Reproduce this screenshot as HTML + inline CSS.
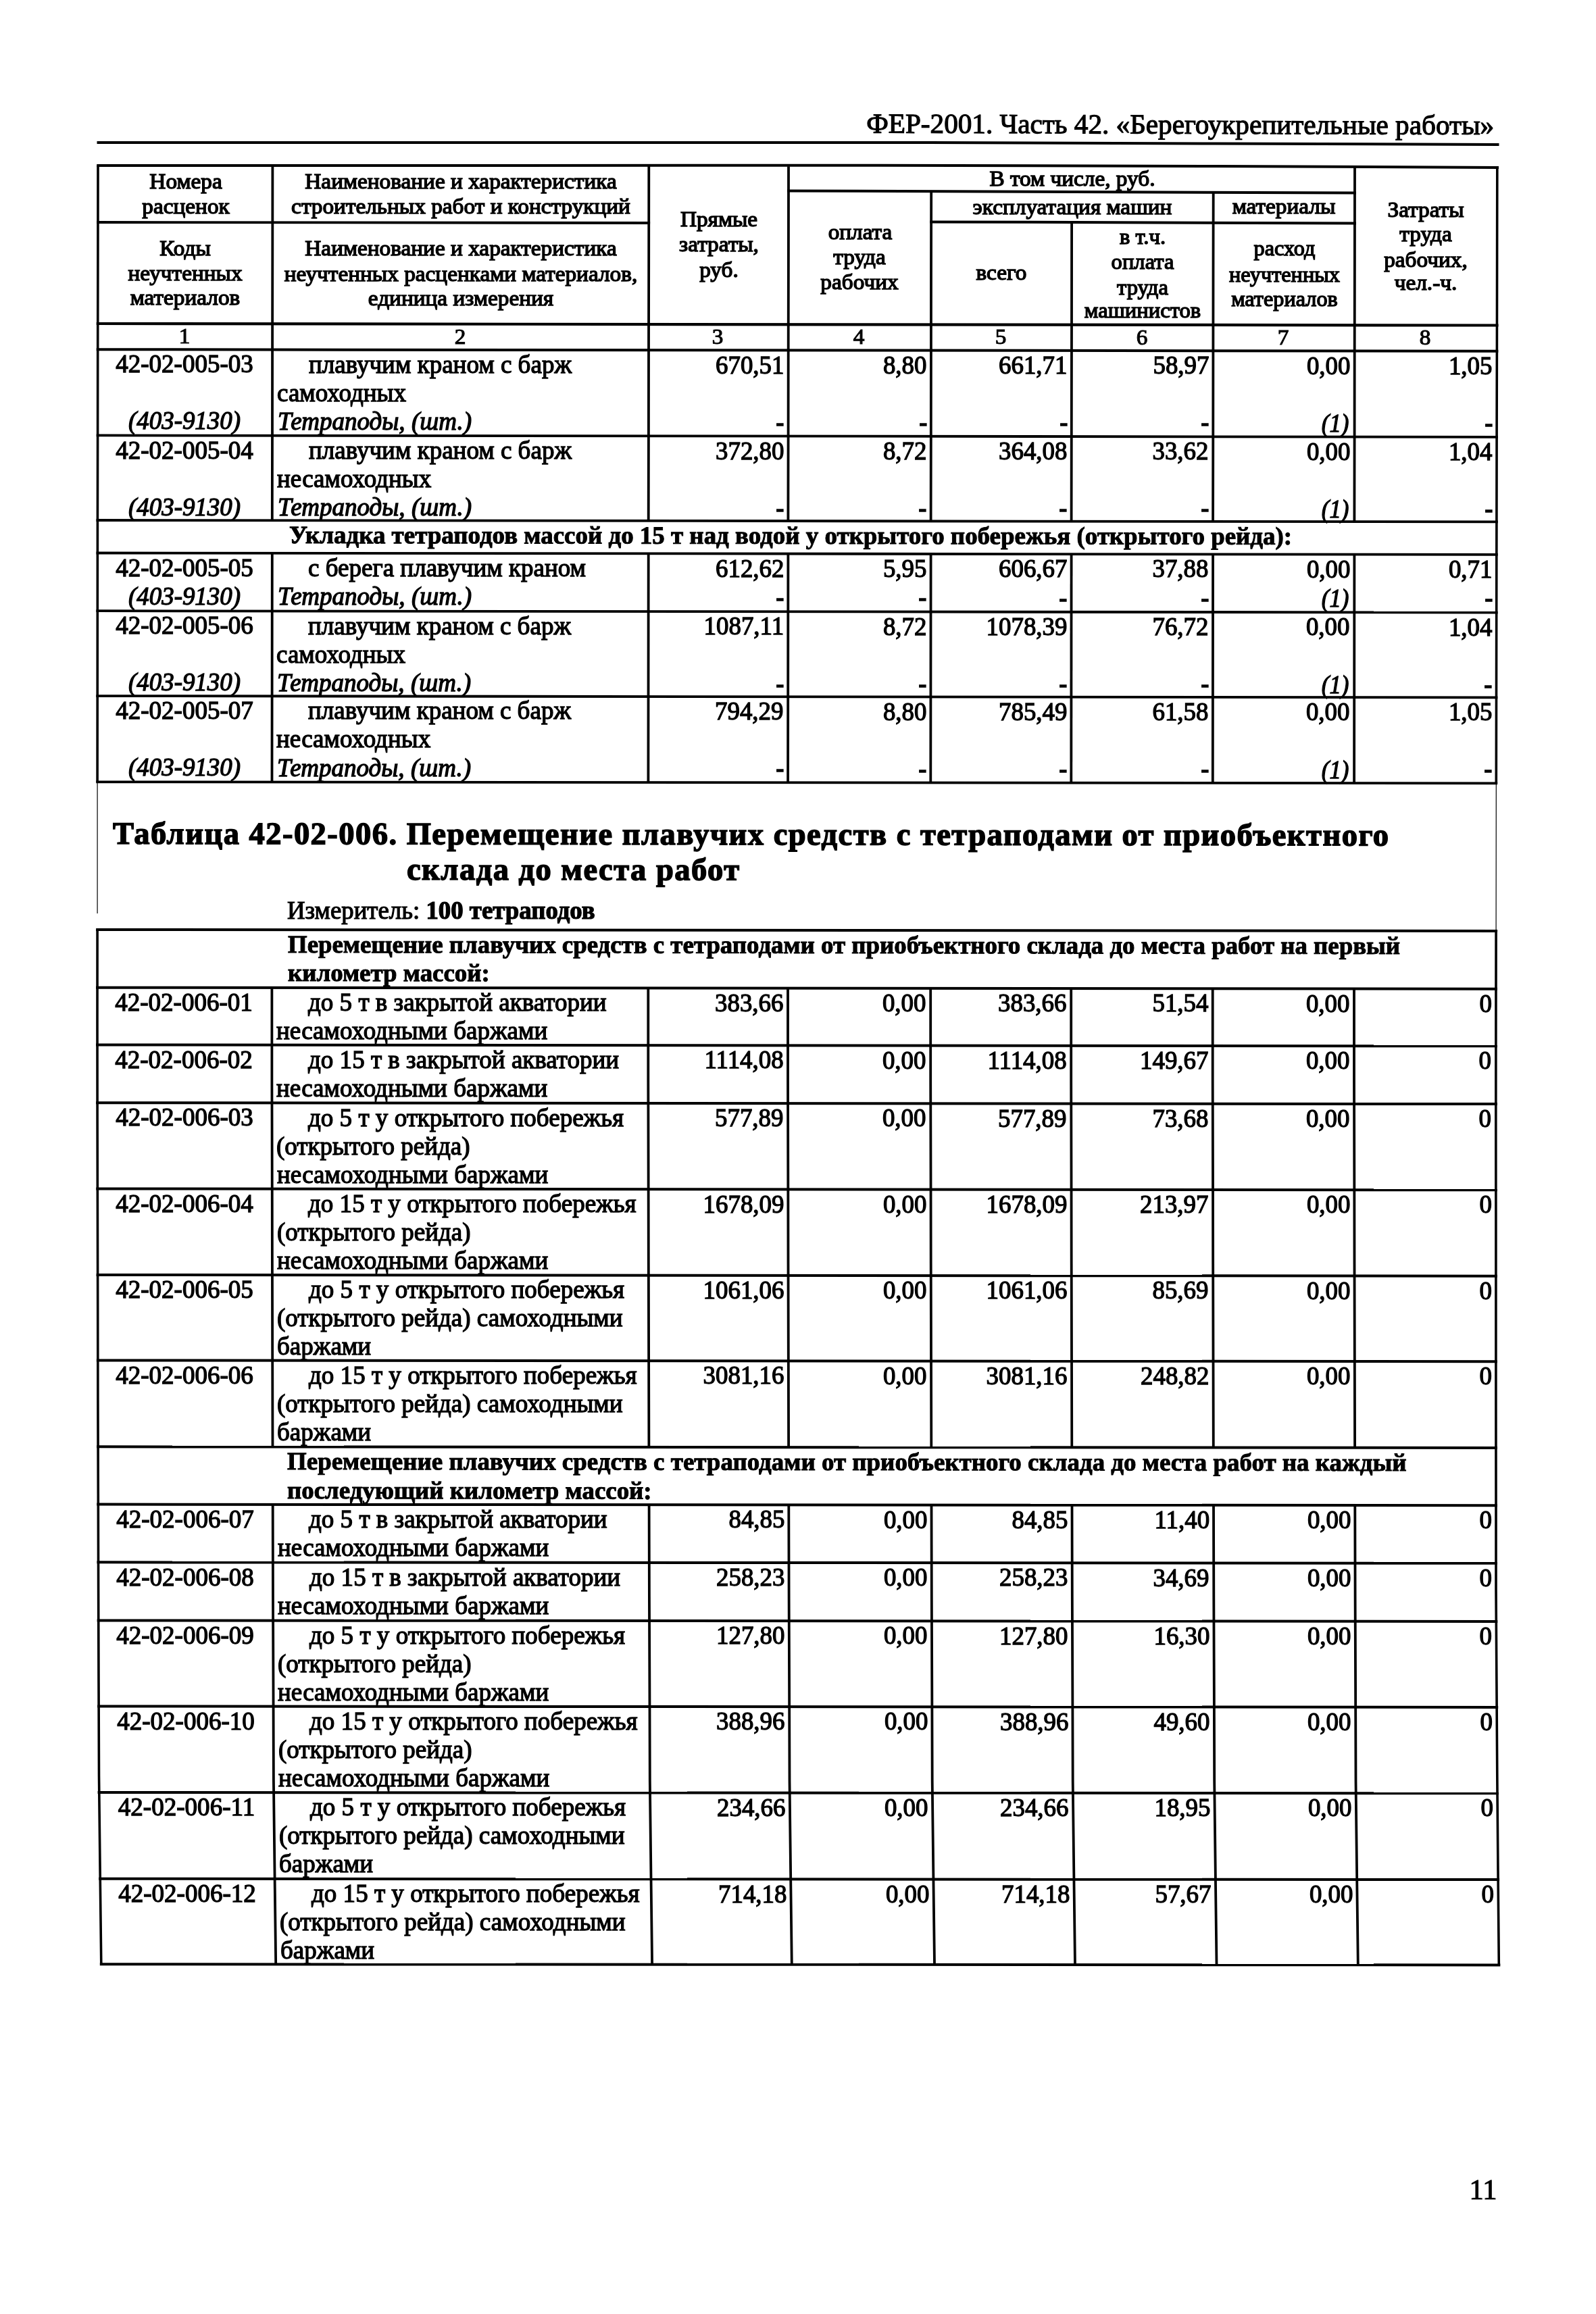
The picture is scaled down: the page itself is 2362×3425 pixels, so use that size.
<!DOCTYPE html>
<html><head><meta charset="utf-8"><title>p11</title>
<style>
html,body{margin:0;padding:0;background:#fff;}
body{width:2362px;height:3425px;position:relative;overflow:hidden;font-family:"Liberation Serif",serif;color:#000;}
span{position:absolute;line-height:1;white-space:pre;}
svg{position:absolute;left:0;top:0;}
#t{position:absolute;left:0;top:0;width:2362px;height:3425px;will-change:transform;transform:translateZ(0);}
svg line,svg polyline{stroke:#000;}
b{font-weight:bold;}
</style></head><body>
<svg width="2362" height="3425" viewBox="0 0 2362 3425">
<polyline points="143.5,211 1375,211 1800,212.5 2218.5,214" stroke-width="4" fill="none"/>
<polyline points="143.2,245 1300,244.8 1800,246 2218,248" stroke-width="4" fill="none"/>
<line x1="1165" y1="282.4" x2="2007" y2="285.6" stroke-width="4"/>
<line x1="143.0" y1="329.0" x2="962.1" y2="330.0" stroke-width="3.8"/>
<line x1="1376.2" y1="328.4" x2="2007" y2="330.4" stroke-width="4"/>
<line x1="142.7" y1="479.0" x2="2217.5" y2="481.5" stroke-width="4.2"/>
<line x1="142.7" y1="517.2" x2="2217.3" y2="519.7" stroke-width="4.0"/>
<line x1="142.7" y1="644.4" x2="2217.0" y2="646.8" stroke-width="3.8"/>
<line x1="142.5" y1="770.0" x2="2216.8" y2="772.3" stroke-width="3.8"/>
<line x1="142.5" y1="818.5" x2="2216.7" y2="820.8" stroke-width="3.8"/>
<line x1="142.4" y1="904.2" x2="2216.6" y2="906.5" stroke-width="3.8"/>
<line x1="142.3" y1="1030.1" x2="2216.4" y2="1032.3" stroke-width="3.8"/>
<line x1="142.2" y1="1157.3" x2="2216.2" y2="1159.4" stroke-width="3.8"/>
<line x1="142.1" y1="1375.9" x2="2216.1" y2="1377.9" stroke-width="4.0"/>
<line x1="142.0" y1="1461.7" x2="2216.0" y2="1463.7" stroke-width="4.0"/>
<line x1="142.0" y1="1546.4" x2="2215.9" y2="1548.3" stroke-width="4.0"/>
<line x1="142.1" y1="1632.2" x2="2215.8" y2="1634.1" stroke-width="4.0"/>
<line x1="142.3" y1="1759.5" x2="2215.8" y2="1761.3" stroke-width="4.0"/>
<line x1="142.6" y1="1887.0" x2="2215.9" y2="1888.7" stroke-width="4.0"/>
<line x1="142.8" y1="2013.5" x2="2215.9" y2="2015.2" stroke-width="4.0"/>
<line x1="143.1" y1="2141.3" x2="2215.9" y2="2142.9" stroke-width="4.0"/>
<line x1="143.3" y1="2226.6" x2="2216.0" y2="2228.2" stroke-width="4.0"/>
<line x1="143.5" y1="2312.3" x2="2216.0" y2="2313.8" stroke-width="4.0"/>
<line x1="143.7" y1="2398.4" x2="2216.3" y2="2399.9" stroke-width="4.0"/>
<line x1="144.2" y1="2525.5" x2="2217.2" y2="2526.9" stroke-width="4.0"/>
<line x1="144.6" y1="2653.0" x2="2218.0" y2="2654.3" stroke-width="4.0"/>
<line x1="146.2" y1="2780.8" x2="2219.1" y2="2782.1" stroke-width="4.0"/>
<line x1="147.8" y1="2907.2" x2="2220.3" y2="2908.4" stroke-width="4.0"/>
<polyline points="145.0,245.0 144.9,375.3 144.7,505.7 144.6,636.0 144.4,766.3 144.3,896.6 144.2,1027.0 144.1,1157.3" stroke-width="3.6" fill="none"/>
<polyline points="144.1,1157.3 144.1,1254.6 144.1,1351.9" stroke-width="1.2" fill="none"/>
<polyline points="144.1,1375.9 144.0,1515.1 144.1,1654.3 144.4,1793.5 144.7,1932.7 144.9,2071.9 145.3,2211.2 145.6,2350.4 146.0,2489.6 146.5,2628.8 148.1,2768.0 149.8,2907.2" stroke-width="3.6" fill="none"/>
<polyline points="2215.8,247.6 2215.6,377.9 2215.4,508.1 2215.1,638.4 2214.9,768.6 2214.7,898.9 2214.5,1029.2 2214.3,1159.4" stroke-width="3.6" fill="none"/>
<polyline points="2214.3,1159.4 2214.2,1268.7 2214.1,1377.9" stroke-width="1.2" fill="none"/>
<polyline points="2214.1,1377.9 2213.9,1517.0 2213.8,1656.2 2213.9,1795.3 2213.9,1934.4 2213.9,2073.6 2214.0,2212.7 2214.0,2351.9 2214.9,2491.0 2215.8,2630.1 2217.0,2769.3 2218.3,2908.4" stroke-width="3.6" fill="none"/>
<polyline points="403.4,245.3 403.3,376.6 403.1,507.8 403.0,639.0 402.8,770.3" stroke-width="3.8" fill="none"/>
<polyline points="402.8,818.8 402.7,931.7 402.6,1044.6 402.5,1157.6" stroke-width="3.8" fill="none"/>
<polyline points="402.4,1461.9 402.4,1597.9 402.7,1733.8 402.9,1869.7 403.2,2005.6 403.5,2141.5" stroke-width="3.8" fill="none"/>
<polyline points="403.7,2226.8 404.0,2362.9 404.5,2499.0 404.9,2635.1 406.5,2771.2 408.2,2907.3" stroke-width="3.8" fill="none"/>
<polyline points="960.3,246.0 960.2,377.2 960.0,508.5 959.9,639.7 959.7,770.9" stroke-width="3.8" fill="none"/>
<polyline points="959.7,819.4 959.6,932.3 959.5,1045.2 959.4,1158.1" stroke-width="3.8" fill="none"/>
<polyline points="959.3,1462.5 959.3,1598.4 959.6,1734.3 959.8,1870.1 960.1,2006.0 960.4,2141.9" stroke-width="3.8" fill="none"/>
<polyline points="960.6,2227.2 960.9,2363.3 961.4,2499.4 961.8,2635.5 963.4,2771.6 965.1,2907.7" stroke-width="3.8" fill="none"/>
<polyline points="1167.0,246.3 1166.9,377.5 1166.7,508.7 1166.6,639.9 1166.4,771.1" stroke-width="3.8" fill="none"/>
<polyline points="1166.4,819.6 1166.3,932.5 1166.2,1045.4 1166.1,1158.3" stroke-width="3.8" fill="none"/>
<polyline points="1166.0,1462.7 1166.0,1598.6 1166.3,1734.4 1166.5,1870.3 1166.8,2006.2 1167.1,2142.1" stroke-width="3.8" fill="none"/>
<polyline points="1167.3,2227.4 1167.6,2363.5 1168.1,2499.5 1168.5,2635.6 1170.1,2771.7 1171.8,2907.8" stroke-width="3.8" fill="none"/>
<polyline points="1378.2,282.5 1378.0,404.7 1377.9,527.0 1377.8,649.2 1377.6,771.4" stroke-width="3.8" fill="none"/>
<polyline points="1377.6,819.9 1377.5,932.8 1377.4,1045.7 1377.3,1158.6" stroke-width="3.8" fill="none"/>
<polyline points="1377.2,1462.9 1377.2,1598.7 1377.5,1734.6 1377.7,1870.5 1378.0,2006.4 1378.3,2142.3" stroke-width="3.8" fill="none"/>
<polyline points="1378.5,2227.5 1378.8,2363.6 1379.3,2499.7 1379.7,2635.8 1381.3,2771.8 1383.0,2907.9" stroke-width="3.8" fill="none"/>
<polyline points="1586.1,330.8 1586.0,477.7 1585.8,624.7 1585.6,771.6" stroke-width="3.8" fill="none"/>
<polyline points="1585.6,820.1 1585.5,933.0 1585.4,1045.9 1585.3,1158.8" stroke-width="3.8" fill="none"/>
<polyline points="1585.2,1463.1 1585.2,1598.9 1585.5,1734.8 1585.7,1870.7 1586.0,2006.5 1586.3,2142.4" stroke-width="3.8" fill="none"/>
<polyline points="1586.5,2227.7 1586.8,2363.8 1587.3,2499.8 1587.7,2635.9 1589.3,2772.0 1591.0,2908.0" stroke-width="3.8" fill="none"/>
<polyline points="1795.7,283.1 1795.5,405.3 1795.4,527.5 1795.3,649.7 1795.1,771.9" stroke-width="3.8" fill="none"/>
<polyline points="1795.1,820.3 1795.0,933.2 1794.9,1046.1 1794.8,1159.0" stroke-width="3.8" fill="none"/>
<polyline points="1794.7,1463.3 1794.7,1599.1 1795.0,1735.0 1795.2,1870.9 1795.5,2006.7 1795.8,2142.6" stroke-width="3.8" fill="none"/>
<polyline points="1796.0,2227.8 1796.3,2363.9 1796.8,2500.0 1797.2,2636.0 1798.8,2772.1 1800.5,2908.2" stroke-width="3.8" fill="none"/>
<polyline points="2005.0,247.3 2004.9,378.5 2004.7,509.7 2004.6,640.9 2004.4,772.1" stroke-width="3.8" fill="none"/>
<polyline points="2004.4,820.6 2004.3,933.4 2004.2,1046.3 2004.1,1159.2" stroke-width="3.8" fill="none"/>
<polyline points="2004.0,1463.5 2004.0,1599.3 2004.3,1735.2 2004.5,1871.0 2004.8,2006.9 2005.1,2142.7" stroke-width="3.8" fill="none"/>
<polyline points="2005.3,2228.0 2005.6,2364.1 2006.1,2500.1 2006.5,2636.2 2008.1,2772.2 2009.8,2908.3" stroke-width="3.8" fill="none"/>
</svg>
<div id="t">
<span style="top:164.6px;font-size:41.0px;right:150.5px;transform-origin:100% 34.3px;transform:rotate(0.154deg) scaleX(1.0040);-webkit-text-stroke:1.20px #000;">ФЕР-2001. Часть 42. «Берегоукрепительные работы»</span>
<span style="top:251.8px;font-size:32.2px;left:275.4px;transform-origin:0 0;transform:scaleX(1.0342) translateX(-50%);-webkit-text-stroke:1.40px #000;">Номера</span>
<span style="top:288.6px;font-size:32.2px;left:275.3px;transform-origin:0 0;transform:scaleX(1.0342) translateX(-50%);-webkit-text-stroke:1.40px #000;">расценок</span>
<span style="top:350.6px;font-size:32.2px;left:274.4px;transform-origin:0 0;transform:scaleX(1.0342) translateX(-50%);-webkit-text-stroke:1.40px #000;">Коды</span>
<span style="top:388.2px;font-size:32.2px;left:274.3px;transform-origin:0 0;transform:scaleX(1.0342) translateX(-50%);-webkit-text-stroke:1.40px #000;">неучтенных</span>
<span style="top:424.1px;font-size:32.2px;left:274.3px;transform-origin:0 0;transform:scaleX(1.0342) translateX(-50%);-webkit-text-stroke:1.40px #000;">материалов</span>
<span style="top:252.3px;font-size:32.2px;left:681.8px;transform-origin:0 0;transform:scaleX(1.0342) translateX(-50%);-webkit-text-stroke:1.40px #000;">Наименование и характеристика</span>
<span style="top:289.1px;font-size:32.2px;left:681.8px;transform-origin:0 0;transform:scaleX(1.0342) translateX(-50%);-webkit-text-stroke:1.40px #000;">строительных работ и конструкций</span>
<span style="top:351.1px;font-size:32.2px;left:681.7px;transform-origin:0 0;transform:scaleX(1.0342) translateX(-50%);-webkit-text-stroke:1.40px #000;">Наименование и характеристика</span>
<span style="top:388.7px;font-size:32.2px;left:681.7px;transform-origin:0 0;transform:scaleX(1.0342) translateX(-50%);-webkit-text-stroke:1.40px #000;">неучтенных расценками материалов,</span>
<span style="top:424.6px;font-size:32.2px;left:681.6px;transform-origin:0 0;transform:scaleX(1.0342) translateX(-50%);-webkit-text-stroke:1.40px #000;">единица измерения</span>
<span style="top:307.7px;font-size:32.2px;left:1063.6px;transform-origin:0 0;transform:scaleX(1.0342) translateX(-50%);-webkit-text-stroke:1.40px #000;">Прямые</span>
<span style="top:345.2px;font-size:32.2px;left:1063.5px;transform-origin:0 0;transform:scaleX(1.0342) translateX(-50%);-webkit-text-stroke:1.40px #000;">затраты,</span>
<span style="top:382.6px;font-size:32.2px;left:1063.5px;transform-origin:0 0;transform:scaleX(1.0342) translateX(-50%);-webkit-text-stroke:1.40px #000;">руб.</span>
<span style="top:248.1px;font-size:32.2px;left:1587.0px;transform-origin:0 0;transform:scaleX(1.0342) translateX(-50%);-webkit-text-stroke:1.40px #000;">В том числе, руб.</span>
<span style="top:326.9px;font-size:32.2px;left:1272.5px;transform-origin:0 0;transform:scaleX(1.0342) translateX(-50%);-webkit-text-stroke:1.40px #000;">оплата</span>
<span style="top:364.4px;font-size:32.2px;left:1272.4px;transform-origin:0 0;transform:scaleX(1.0342) translateX(-50%);-webkit-text-stroke:1.40px #000;">труда</span>
<span style="top:400.9px;font-size:32.2px;left:1272.4px;transform-origin:0 0;transform:scaleX(1.0342) translateX(-50%);-webkit-text-stroke:1.40px #000;">рабочих</span>
<span style="top:289.8px;font-size:32.2px;left:1586.9px;transform-origin:0 0;transform:scaleX(1.0342) translateX(-50%);-webkit-text-stroke:1.40px #000;">эксплуатация машин</span>
<span style="top:288.7px;font-size:32.2px;left:1900.3px;transform-origin:0 0;transform:scaleX(1.0342) translateX(-50%);-webkit-text-stroke:1.40px #000;">материалы</span>
<span style="top:386.7px;font-size:32.2px;left:1482.0px;transform-origin:0 0;transform:scaleX(1.0342) translateX(-50%);-webkit-text-stroke:1.40px #000;">всего</span>
<span style="top:333.9px;font-size:32.2px;left:1690.8px;transform-origin:0 0;transform:scaleX(1.0135) translateX(-50%);-webkit-text-stroke:1.40px #000;">в т.ч.</span>
<span style="top:370.9px;font-size:32.2px;left:1690.8px;transform-origin:0 0;transform:scaleX(1.0135) translateX(-50%);-webkit-text-stroke:1.40px #000;">оплата</span>
<span style="top:408.9px;font-size:32.2px;left:1690.7px;transform-origin:0 0;transform:scaleX(1.0135) translateX(-50%);-webkit-text-stroke:1.40px #000;">труда</span>
<span style="top:442.9px;font-size:32.2px;left:1690.7px;transform-origin:0 0;transform:scaleX(1.0135) translateX(-50%);-webkit-text-stroke:1.40px #000;">машинистов</span>
<span style="top:350.7px;font-size:32.2px;left:1901.2px;transform-origin:0 0;transform:scaleX(1.0031) translateX(-50%);-webkit-text-stroke:1.40px #000;">расход</span>
<span style="top:389.7px;font-size:32.2px;left:1901.2px;transform-origin:0 0;transform:scaleX(1.0031) translateX(-50%);-webkit-text-stroke:1.40px #000;">неучтенных</span>
<span style="top:425.6px;font-size:32.2px;left:1901.1px;transform-origin:0 0;transform:scaleX(1.0031) translateX(-50%);-webkit-text-stroke:1.40px #000;">материалов</span>
<span style="top:293.5px;font-size:32.2px;left:2110.1px;transform-origin:0 0;transform:scaleX(1.0342) translateX(-50%);-webkit-text-stroke:1.40px #000;">Затраты</span>
<span style="top:329.9px;font-size:32.2px;left:2110.0px;transform-origin:0 0;transform:scaleX(1.0342) translateX(-50%);-webkit-text-stroke:1.40px #000;">труда</span>
<span style="top:368.4px;font-size:32.2px;left:2110.0px;transform-origin:0 0;transform:scaleX(1.0342) translateX(-50%);-webkit-text-stroke:1.40px #000;">рабочих,</span>
<span style="top:402.4px;font-size:32.2px;left:2110.0px;transform-origin:0 0;transform:scaleX(1.0342) translateX(-50%);-webkit-text-stroke:1.40px #000;">чел.-ч.</span>
<span style="top:481.0px;font-size:32.2px;left:272.9px;transform-origin:0 0;transform:scaleX(1.0342) translateX(-50%);-webkit-text-stroke:1.10px #000;">1</span>
<span style="top:481.5px;font-size:32.2px;left:680.6px;transform-origin:0 0;transform:scaleX(1.0342) translateX(-50%);-webkit-text-stroke:1.10px #000;">2</span>
<span style="top:481.9px;font-size:32.2px;left:1062.4px;transform-origin:0 0;transform:scaleX(1.0342) translateX(-50%);-webkit-text-stroke:1.10px #000;">3</span>
<span style="top:482.2px;font-size:32.2px;left:1271.3px;transform-origin:0 0;transform:scaleX(1.0342) translateX(-50%);-webkit-text-stroke:1.10px #000;">4</span>
<span style="top:482.4px;font-size:32.2px;left:1480.9px;transform-origin:0 0;transform:scaleX(1.0342) translateX(-50%);-webkit-text-stroke:1.10px #000;">5</span>
<span style="top:482.7px;font-size:32.2px;left:1689.7px;transform-origin:0 0;transform:scaleX(1.0342) translateX(-50%);-webkit-text-stroke:1.10px #000;">6</span>
<span style="top:482.9px;font-size:32.2px;left:1899.1px;transform-origin:0 0;transform:scaleX(1.0342) translateX(-50%);-webkit-text-stroke:1.10px #000;">7</span>
<span style="top:483.2px;font-size:32.2px;left:2108.9px;transform-origin:0 0;transform:scaleX(1.0342) translateX(-50%);-webkit-text-stroke:1.10px #000;">8</span>
<span style="top:519.4px;font-size:38.0px;left:273.1px;transform-origin:0 0;transform:scaleX(0.9749) translateX(-50%);-webkit-text-stroke:1.30px #000;">42-02-005-03</span>
<span style="top:603.3px;font-size:38.0px;left:273.3px;transform-origin:0 0;transform:scaleX(0.9711) translateX(-50%);font-style:italic;-webkit-text-stroke:1.30px #000;">(403-9130)</span>
<span style="top:521.6px;font-size:36.9px;left:456.7px;transform-origin:0 30.9px;transform:scaleX(1.0040);-webkit-text-stroke:1.30px #000;">плавучим краном с барж</span>
<span style="top:563.6px;font-size:36.9px;left:409.8px;transform-origin:0 30.9px;transform:scaleX(1.0040);-webkit-text-stroke:1.30px #000;">самоходных</span>
<span style="top:605.6px;font-size:36.9px;left:410.8px;transform-origin:0 30.9px;transform:scaleX(1.0040);font-style:italic;-webkit-text-stroke:1.30px #000;">Тетраподы, (шт.)</span>
<span style="top:520.5px;font-size:38.0px;right:1201.7px;transform-origin:100% 31.8px;transform:scaleX(0.9711);-webkit-text-stroke:1.30px #000;">670,51</span>
<span style="top:607.6px;font-size:36.9px;right:1201.3px;transform-origin:100% 30.9px;transform:scaleX(0.9500);-webkit-text-stroke:1.60px #000;">-</span>
<span style="top:520.7px;font-size:38.0px;right:990.5px;transform-origin:100% 31.8px;transform:scaleX(0.9711);-webkit-text-stroke:1.30px #000;">8,80</span>
<span style="top:607.8px;font-size:36.9px;right:990.1px;transform-origin:100% 30.9px;transform:scaleX(0.9500);-webkit-text-stroke:1.60px #000;">-</span>
<span style="top:521.0px;font-size:38.0px;right:782.5px;transform-origin:100% 31.8px;transform:scaleX(0.9711);-webkit-text-stroke:1.30px #000;">661,71</span>
<span style="top:608.1px;font-size:36.9px;right:782.1px;transform-origin:100% 30.9px;transform:scaleX(0.9500);-webkit-text-stroke:1.60px #000;">-</span>
<span style="top:521.2px;font-size:38.0px;right:573.0px;transform-origin:100% 31.8px;transform:scaleX(0.9711);-webkit-text-stroke:1.30px #000;">58,97</span>
<span style="top:608.3px;font-size:36.9px;right:572.6px;transform-origin:100% 30.9px;transform:scaleX(0.9500);-webkit-text-stroke:1.60px #000;">-</span>
<span style="top:521.5px;font-size:38.0px;right:363.7px;transform-origin:100% 31.8px;transform:scaleX(0.9711);-webkit-text-stroke:1.30px #000;">0,00</span>
<span style="top:607.0px;font-size:38.0px;right:365.3px;transform-origin:100% 31.8px;transform:scaleX(0.9128);font-style:italic;-webkit-text-stroke:1.30px #000;">(1)</span>
<span style="top:521.7px;font-size:38.0px;right:153.1px;transform-origin:100% 31.8px;transform:scaleX(0.9711);-webkit-text-stroke:1.30px #000;">1,05</span>
<span style="top:608.8px;font-size:36.9px;right:152.8px;transform-origin:100% 30.9px;transform:scaleX(0.9500);-webkit-text-stroke:1.60px #000;">-</span>
<span style="top:646.6px;font-size:38.0px;left:272.9px;transform-origin:0 0;transform:scaleX(0.9749) translateX(-50%);-webkit-text-stroke:1.30px #000;">42-02-005-04</span>
<span style="top:730.5px;font-size:38.0px;left:273.2px;transform-origin:0 0;transform:scaleX(0.9711) translateX(-50%);font-style:italic;-webkit-text-stroke:1.30px #000;">(403-9130)</span>
<span style="top:648.8px;font-size:36.9px;left:456.5px;transform-origin:0 30.9px;transform:scaleX(1.0040);-webkit-text-stroke:1.30px #000;">плавучим краном с барж</span>
<span style="top:690.7px;font-size:36.9px;left:409.7px;transform-origin:0 30.9px;transform:scaleX(1.0040);-webkit-text-stroke:1.30px #000;">несамоходных</span>
<span style="top:732.8px;font-size:36.9px;left:410.7px;transform-origin:0 30.9px;transform:scaleX(1.0040);font-style:italic;-webkit-text-stroke:1.30px #000;">Тетраподы, (шт.)</span>
<span style="top:647.6px;font-size:38.0px;right:1201.9px;transform-origin:100% 31.8px;transform:scaleX(0.9711);-webkit-text-stroke:1.30px #000;">372,80</span>
<span style="top:734.7px;font-size:36.9px;right:1201.5px;transform-origin:100% 30.9px;transform:scaleX(0.9500);-webkit-text-stroke:1.60px #000;">-</span>
<span style="top:647.9px;font-size:38.0px;right:990.7px;transform-origin:100% 31.8px;transform:scaleX(0.9711);-webkit-text-stroke:1.30px #000;">8,72</span>
<span style="top:735.0px;font-size:36.9px;right:990.3px;transform-origin:100% 30.9px;transform:scaleX(0.9500);-webkit-text-stroke:1.60px #000;">-</span>
<span style="top:648.1px;font-size:38.0px;right:782.7px;transform-origin:100% 31.8px;transform:scaleX(0.9711);-webkit-text-stroke:1.30px #000;">364,08</span>
<span style="top:735.2px;font-size:36.9px;right:782.3px;transform-origin:100% 30.9px;transform:scaleX(0.9500);-webkit-text-stroke:1.60px #000;">-</span>
<span style="top:648.4px;font-size:38.0px;right:573.2px;transform-origin:100% 31.8px;transform:scaleX(0.9711);-webkit-text-stroke:1.30px #000;">33,62</span>
<span style="top:735.4px;font-size:36.9px;right:572.8px;transform-origin:100% 30.9px;transform:scaleX(0.9500);-webkit-text-stroke:1.60px #000;">-</span>
<span style="top:648.6px;font-size:38.0px;right:363.9px;transform-origin:100% 31.8px;transform:scaleX(0.9711);-webkit-text-stroke:1.30px #000;">0,00</span>
<span style="top:734.2px;font-size:38.0px;right:365.4px;transform-origin:100% 31.8px;transform:scaleX(0.9128);font-style:italic;-webkit-text-stroke:1.30px #000;">(1)</span>
<span style="top:648.8px;font-size:38.0px;right:153.3px;transform-origin:100% 31.8px;transform:scaleX(0.9711);-webkit-text-stroke:1.30px #000;">1,04</span>
<span style="top:735.9px;font-size:36.9px;right:153.0px;transform-origin:100% 30.9px;transform:scaleX(0.9500);-webkit-text-stroke:1.60px #000;">-</span>
<span style="top:773.9px;font-size:36.9px;left:428.1px;transform-origin:0 30.9px;transform:rotate(0.070deg) scaleX(1.0010);font-weight:bold;-webkit-text-stroke:1.00px #000;">Укладка тетраподов массой до 15 т над водой у открытого побережья (открытого рейда):</span>
<span style="top:820.7px;font-size:38.0px;left:272.8px;transform-origin:0 0;transform:scaleX(0.9749) translateX(-50%);-webkit-text-stroke:1.30px #000;">42-02-005-05</span>
<span style="top:862.8px;font-size:38.0px;left:273.0px;transform-origin:0 0;transform:scaleX(0.9711) translateX(-50%);font-style:italic;-webkit-text-stroke:1.30px #000;">(403-9130)</span>
<span style="top:822.8px;font-size:36.9px;left:456.4px;transform-origin:0 30.9px;transform:scaleX(1.0040);-webkit-text-stroke:1.30px #000;">с берега плавучим краном</span>
<span style="top:864.8px;font-size:36.9px;left:410.5px;transform-origin:0 30.9px;transform:scaleX(1.0040);font-style:italic;-webkit-text-stroke:1.30px #000;">Тетраподы, (шт.)</span>
<span style="top:821.7px;font-size:38.0px;right:1202.0px;transform-origin:100% 31.8px;transform:scaleX(0.9711);-webkit-text-stroke:1.30px #000;">612,62</span>
<span style="top:867.0px;font-size:36.9px;right:1201.6px;transform-origin:100% 30.9px;transform:scaleX(0.9500);-webkit-text-stroke:1.60px #000;">-</span>
<span style="top:821.9px;font-size:38.0px;right:990.8px;transform-origin:100% 31.8px;transform:scaleX(0.9711);-webkit-text-stroke:1.30px #000;">5,95</span>
<span style="top:867.2px;font-size:36.9px;right:990.4px;transform-origin:100% 30.9px;transform:scaleX(0.9500);-webkit-text-stroke:1.60px #000;">-</span>
<span style="top:822.2px;font-size:38.0px;right:782.8px;transform-origin:100% 31.8px;transform:scaleX(0.9711);-webkit-text-stroke:1.30px #000;">606,67</span>
<span style="top:867.5px;font-size:36.9px;right:782.4px;transform-origin:100% 30.9px;transform:scaleX(0.9500);-webkit-text-stroke:1.60px #000;">-</span>
<span style="top:822.4px;font-size:38.0px;right:573.3px;transform-origin:100% 31.8px;transform:scaleX(0.9711);-webkit-text-stroke:1.30px #000;">37,88</span>
<span style="top:867.7px;font-size:36.9px;right:572.9px;transform-origin:100% 30.9px;transform:scaleX(0.9500);-webkit-text-stroke:1.60px #000;">-</span>
<span style="top:822.6px;font-size:38.0px;right:364.0px;transform-origin:100% 31.8px;transform:scaleX(0.9711);-webkit-text-stroke:1.30px #000;">0,00</span>
<span style="top:866.4px;font-size:38.0px;right:365.6px;transform-origin:100% 31.8px;transform:scaleX(0.9128);font-style:italic;-webkit-text-stroke:1.30px #000;">(1)</span>
<span style="top:822.8px;font-size:38.0px;right:153.6px;transform-origin:100% 31.8px;transform:scaleX(0.9711);-webkit-text-stroke:1.30px #000;">0,71</span>
<span style="top:868.1px;font-size:36.9px;right:153.2px;transform-origin:100% 30.9px;transform:scaleX(0.9500);-webkit-text-stroke:1.60px #000;">-</span>
<span style="top:906.4px;font-size:38.0px;left:272.7px;transform-origin:0 0;transform:scaleX(0.9749) translateX(-50%);-webkit-text-stroke:1.30px #000;">42-02-005-06</span>
<span style="top:990.3px;font-size:38.0px;left:272.9px;transform-origin:0 0;transform:scaleX(0.9711) translateX(-50%);font-style:italic;-webkit-text-stroke:1.30px #000;">(403-9130)</span>
<span style="top:908.5px;font-size:36.9px;left:456.3px;transform-origin:0 30.9px;transform:scaleX(1.0040);-webkit-text-stroke:1.30px #000;">плавучим краном с барж</span>
<span style="top:950.5px;font-size:36.9px;left:409.4px;transform-origin:0 30.9px;transform:scaleX(1.0040);-webkit-text-stroke:1.30px #000;">самоходных</span>
<span style="top:992.6px;font-size:36.9px;left:410.4px;transform-origin:0 30.9px;transform:scaleX(1.0040);font-style:italic;-webkit-text-stroke:1.30px #000;">Тетраподы, (шт.)</span>
<span style="top:907.4px;font-size:38.0px;right:1202.1px;transform-origin:100% 31.8px;transform:scaleX(0.9711);-webkit-text-stroke:1.30px #000;">1087,11</span>
<span style="top:994.5px;font-size:36.9px;right:1201.7px;transform-origin:100% 30.9px;transform:scaleX(0.9500);-webkit-text-stroke:1.60px #000;">-</span>
<span style="top:907.6px;font-size:38.0px;right:990.9px;transform-origin:100% 31.8px;transform:scaleX(0.9711);-webkit-text-stroke:1.30px #000;">8,72</span>
<span style="top:994.7px;font-size:36.9px;right:990.5px;transform-origin:100% 30.9px;transform:scaleX(0.9500);-webkit-text-stroke:1.60px #000;">-</span>
<span style="top:907.8px;font-size:38.0px;right:782.9px;transform-origin:100% 31.8px;transform:scaleX(0.9711);-webkit-text-stroke:1.30px #000;">1078,39</span>
<span style="top:994.9px;font-size:36.9px;right:782.5px;transform-origin:100% 30.9px;transform:scaleX(0.9500);-webkit-text-stroke:1.60px #000;">-</span>
<span style="top:908.1px;font-size:38.0px;right:573.4px;transform-origin:100% 31.8px;transform:scaleX(0.9711);-webkit-text-stroke:1.30px #000;">76,72</span>
<span style="top:995.1px;font-size:36.9px;right:573.0px;transform-origin:100% 30.9px;transform:scaleX(0.9500);-webkit-text-stroke:1.60px #000;">-</span>
<span style="top:908.3px;font-size:38.0px;right:364.1px;transform-origin:100% 31.8px;transform:scaleX(0.9711);-webkit-text-stroke:1.30px #000;">0,00</span>
<span style="top:993.8px;font-size:38.0px;right:365.7px;transform-origin:100% 31.8px;transform:scaleX(0.9128);font-style:italic;-webkit-text-stroke:1.30px #000;">(1)</span>
<span style="top:908.5px;font-size:38.0px;right:153.8px;transform-origin:100% 31.8px;transform:scaleX(0.9711);-webkit-text-stroke:1.30px #000;">1,04</span>
<span style="top:995.6px;font-size:36.9px;right:153.4px;transform-origin:100% 30.9px;transform:scaleX(0.9500);-webkit-text-stroke:1.60px #000;">-</span>
<span style="top:1032.3px;font-size:38.0px;left:272.6px;transform-origin:0 0;transform:scaleX(0.9749) translateX(-50%);-webkit-text-stroke:1.30px #000;">42-02-005-07</span>
<span style="top:1116.2px;font-size:38.0px;left:272.9px;transform-origin:0 0;transform:scaleX(0.9711) translateX(-50%);font-style:italic;-webkit-text-stroke:1.30px #000;">(403-9130)</span>
<span style="top:1034.4px;font-size:36.9px;left:456.2px;transform-origin:0 30.9px;transform:scaleX(1.0040);-webkit-text-stroke:1.30px #000;">плавучим краном с барж</span>
<span style="top:1076.4px;font-size:36.9px;left:409.4px;transform-origin:0 30.9px;transform:scaleX(1.0040);-webkit-text-stroke:1.30px #000;">несамоходных</span>
<span style="top:1118.5px;font-size:36.9px;left:410.4px;transform-origin:0 30.9px;transform:scaleX(1.0040);font-style:italic;-webkit-text-stroke:1.30px #000;">Тетраподы, (шт.)</span>
<span style="top:1033.2px;font-size:38.0px;right:1202.2px;transform-origin:100% 31.8px;transform:scaleX(0.9711);-webkit-text-stroke:1.30px #000;">794,29</span>
<span style="top:1120.3px;font-size:36.9px;right:1201.8px;transform-origin:100% 30.9px;transform:scaleX(0.9500);-webkit-text-stroke:1.60px #000;">-</span>
<span style="top:1033.5px;font-size:38.0px;right:991.0px;transform-origin:100% 31.8px;transform:scaleX(0.9711);-webkit-text-stroke:1.30px #000;">8,80</span>
<span style="top:1120.6px;font-size:36.9px;right:990.6px;transform-origin:100% 30.9px;transform:scaleX(0.9500);-webkit-text-stroke:1.60px #000;">-</span>
<span style="top:1033.7px;font-size:38.0px;right:783.0px;transform-origin:100% 31.8px;transform:scaleX(0.9711);-webkit-text-stroke:1.30px #000;">785,49</span>
<span style="top:1120.8px;font-size:36.9px;right:782.6px;transform-origin:100% 30.9px;transform:scaleX(0.9500);-webkit-text-stroke:1.60px #000;">-</span>
<span style="top:1033.9px;font-size:38.0px;right:573.5px;transform-origin:100% 31.8px;transform:scaleX(0.9711);-webkit-text-stroke:1.30px #000;">61,58</span>
<span style="top:1121.0px;font-size:36.9px;right:573.1px;transform-origin:100% 30.9px;transform:scaleX(0.9500);-webkit-text-stroke:1.60px #000;">-</span>
<span style="top:1034.1px;font-size:38.0px;right:364.2px;transform-origin:100% 31.8px;transform:scaleX(0.9711);-webkit-text-stroke:1.30px #000;">0,00</span>
<span style="top:1119.7px;font-size:38.0px;right:365.7px;transform-origin:100% 31.8px;transform:scaleX(0.9128);font-style:italic;-webkit-text-stroke:1.30px #000;">(1)</span>
<span style="top:1034.3px;font-size:38.0px;right:154.0px;transform-origin:100% 31.8px;transform:scaleX(0.9711);-webkit-text-stroke:1.30px #000;">1,05</span>
<span style="top:1121.4px;font-size:36.9px;right:153.6px;transform-origin:100% 30.9px;transform:scaleX(0.9500);-webkit-text-stroke:1.60px #000;">-</span>
<span style="top:1210.5px;font-size:46.5px;left:166.6px;transform-origin:0 38.9px;transform:rotate(0.075deg) scaleX(1.0000);font-weight:bold;-webkit-text-stroke:1.50px #000;"><span style="position:static;letter-spacing:1.47px">Таблица 42-02-006. Перемещение плавучих средств с тетраподами от приобъектного</span></span>
<span style="top:1264.3px;font-size:46.5px;left:602.1px;transform-origin:0 38.9px;transform:rotate(0.075deg) scaleX(1.0000);font-weight:bold;-webkit-text-stroke:1.50px #000;"><span style="position:static;letter-spacing:1.47px">склада до места работ</span></span>
<span style="top:1329.9px;font-size:36.9px;left:424.7px;transform-origin:0 30.9px;transform:scaleX(0.9980);-webkit-text-stroke:1.20px #000;">Измеритель: <b>100 тетраподов</b></span>
<span style="top:1379.8px;font-size:36.9px;left:426.1px;transform-origin:0 30.9px;transform:rotate(0.070deg) scaleX(0.9989);font-weight:bold;-webkit-text-stroke:1.00px #000;">Перемещение плавучих средств с тетраподами от приобъектного склада до места работ на первый</span>
<span style="top:1422.3px;font-size:36.9px;left:426.0px;transform-origin:0 30.9px;transform:rotate(0.070deg) scaleX(1.0000);font-weight:bold;-webkit-text-stroke:1.00px #000;">километр массой:</span>
<span style="top:1463.9px;font-size:38.0px;left:272.4px;transform-origin:0 0;transform:scaleX(0.9749) translateX(-50%);-webkit-text-stroke:1.30px #000;">42-02-006-01</span>
<span style="top:1466.0px;font-size:36.9px;left:456.0px;transform-origin:0 30.9px;transform:scaleX(1.0040);-webkit-text-stroke:1.30px #000;">до 5 т в закрытой акватории</span>
<span style="top:1508.0px;font-size:36.9px;left:409.2px;transform-origin:0 30.9px;transform:scaleX(1.0040);-webkit-text-stroke:1.30px #000;">несамоходными баржами</span>
<span style="top:1464.7px;font-size:38.0px;right:1202.4px;transform-origin:100% 31.8px;transform:scaleX(0.9711);-webkit-text-stroke:1.30px #000;">383,66</span>
<span style="top:1464.9px;font-size:38.0px;right:991.2px;transform-origin:100% 31.8px;transform:scaleX(0.9711);-webkit-text-stroke:1.30px #000;">0,00</span>
<span style="top:1465.1px;font-size:38.0px;right:783.2px;transform-origin:100% 31.8px;transform:scaleX(0.9711);-webkit-text-stroke:1.30px #000;">383,66</span>
<span style="top:1465.3px;font-size:38.0px;right:573.7px;transform-origin:100% 31.8px;transform:scaleX(0.9711);-webkit-text-stroke:1.30px #000;">51,54</span>
<span style="top:1465.5px;font-size:38.0px;right:364.4px;transform-origin:100% 31.8px;transform:scaleX(0.9711);-webkit-text-stroke:1.30px #000;">0,00</span>
<span style="top:1465.7px;font-size:38.0px;right:154.5px;transform-origin:100% 31.8px;transform:scaleX(0.9711);-webkit-text-stroke:1.30px #000;">0</span>
<span style="top:1548.6px;font-size:38.0px;left:272.4px;transform-origin:0 0;transform:scaleX(0.9749) translateX(-50%);-webkit-text-stroke:1.30px #000;">42-02-006-02</span>
<span style="top:1550.7px;font-size:36.9px;left:456.0px;transform-origin:0 30.9px;transform:scaleX(1.0040);-webkit-text-stroke:1.30px #000;">до 15 т в закрытой акватории</span>
<span style="top:1592.7px;font-size:36.9px;left:409.2px;transform-origin:0 30.9px;transform:scaleX(1.0040);-webkit-text-stroke:1.30px #000;">несамоходными баржами</span>
<span style="top:1549.4px;font-size:38.0px;right:1202.4px;transform-origin:100% 31.8px;transform:scaleX(0.9711);-webkit-text-stroke:1.30px #000;">1114,08</span>
<span style="top:1549.6px;font-size:38.0px;right:991.2px;transform-origin:100% 31.8px;transform:scaleX(0.9711);-webkit-text-stroke:1.30px #000;">0,00</span>
<span style="top:1549.8px;font-size:38.0px;right:783.2px;transform-origin:100% 31.8px;transform:scaleX(0.9711);-webkit-text-stroke:1.30px #000;">1114,08</span>
<span style="top:1550.0px;font-size:38.0px;right:573.7px;transform-origin:100% 31.8px;transform:scaleX(0.9711);-webkit-text-stroke:1.30px #000;">149,67</span>
<span style="top:1550.2px;font-size:38.0px;right:364.4px;transform-origin:100% 31.8px;transform:scaleX(0.9711);-webkit-text-stroke:1.30px #000;">0,00</span>
<span style="top:1550.4px;font-size:38.0px;right:154.6px;transform-origin:100% 31.8px;transform:scaleX(0.9711);-webkit-text-stroke:1.30px #000;">0</span>
<span style="top:1634.4px;font-size:38.0px;left:272.5px;transform-origin:0 0;transform:scaleX(0.9749) translateX(-50%);-webkit-text-stroke:1.30px #000;">42-02-006-03</span>
<span style="top:1636.5px;font-size:36.9px;left:456.1px;transform-origin:0 30.9px;transform:scaleX(1.0040);-webkit-text-stroke:1.30px #000;">до 5 т у открытого побережья</span>
<span style="top:1678.5px;font-size:36.9px;left:409.4px;transform-origin:0 30.9px;transform:scaleX(1.0040);-webkit-text-stroke:1.30px #000;">(открытого рейда)</span>
<span style="top:1720.5px;font-size:36.9px;left:409.5px;transform-origin:0 30.9px;transform:scaleX(1.0040);-webkit-text-stroke:1.30px #000;">несамоходными баржами</span>
<span style="top:1635.2px;font-size:38.0px;right:1202.3px;transform-origin:100% 31.8px;transform:scaleX(0.9711);-webkit-text-stroke:1.30px #000;">577,89</span>
<span style="top:1635.4px;font-size:38.0px;right:991.1px;transform-origin:100% 31.8px;transform:scaleX(0.9711);-webkit-text-stroke:1.30px #000;">0,00</span>
<span style="top:1635.6px;font-size:38.0px;right:783.1px;transform-origin:100% 31.8px;transform:scaleX(0.9711);-webkit-text-stroke:1.30px #000;">577,89</span>
<span style="top:1635.7px;font-size:38.0px;right:573.6px;transform-origin:100% 31.8px;transform:scaleX(0.9711);-webkit-text-stroke:1.30px #000;">73,68</span>
<span style="top:1635.9px;font-size:38.0px;right:364.3px;transform-origin:100% 31.8px;transform:scaleX(0.9711);-webkit-text-stroke:1.30px #000;">0,00</span>
<span style="top:1636.1px;font-size:38.0px;right:154.6px;transform-origin:100% 31.8px;transform:scaleX(0.9711);-webkit-text-stroke:1.30px #000;">0</span>
<span style="top:1761.7px;font-size:38.0px;left:272.8px;transform-origin:0 0;transform:scaleX(0.9749) translateX(-50%);-webkit-text-stroke:1.30px #000;">42-02-006-04</span>
<span style="top:1763.8px;font-size:36.9px;left:456.4px;transform-origin:0 30.9px;transform:scaleX(1.0040);-webkit-text-stroke:1.30px #000;">до 15 т у открытого побережья</span>
<span style="top:1805.8px;font-size:36.9px;left:409.7px;transform-origin:0 30.9px;transform:scaleX(1.0040);-webkit-text-stroke:1.30px #000;">(открытого рейда)</span>
<span style="top:1847.8px;font-size:36.9px;left:409.8px;transform-origin:0 30.9px;transform:scaleX(1.0040);-webkit-text-stroke:1.30px #000;">несамоходными баржами</span>
<span style="top:1762.5px;font-size:38.0px;right:1202.0px;transform-origin:100% 31.8px;transform:scaleX(0.9711);-webkit-text-stroke:1.30px #000;">1678,09</span>
<span style="top:1762.6px;font-size:38.0px;right:990.8px;transform-origin:100% 31.8px;transform:scaleX(0.9711);-webkit-text-stroke:1.30px #000;">0,00</span>
<span style="top:1762.8px;font-size:38.0px;right:782.8px;transform-origin:100% 31.8px;transform:scaleX(0.9711);-webkit-text-stroke:1.30px #000;">1678,09</span>
<span style="top:1763.0px;font-size:38.0px;right:573.3px;transform-origin:100% 31.8px;transform:scaleX(0.9711);-webkit-text-stroke:1.30px #000;">213,97</span>
<span style="top:1763.2px;font-size:38.0px;right:364.0px;transform-origin:100% 31.8px;transform:scaleX(0.9711);-webkit-text-stroke:1.30px #000;">0,00</span>
<span style="top:1763.4px;font-size:38.0px;right:154.5px;transform-origin:100% 31.8px;transform:scaleX(0.9711);-webkit-text-stroke:1.30px #000;">0</span>
<span style="top:1889.2px;font-size:38.0px;left:273.0px;transform-origin:0 0;transform:scaleX(0.9749) translateX(-50%);-webkit-text-stroke:1.30px #000;">42-02-006-05</span>
<span style="top:1891.3px;font-size:36.9px;left:456.6px;transform-origin:0 30.9px;transform:scaleX(1.0040);-webkit-text-stroke:1.30px #000;">до 5 т у открытого побережья</span>
<span style="top:1933.3px;font-size:36.9px;left:409.9px;transform-origin:0 30.9px;transform:scaleX(1.0040);-webkit-text-stroke:1.30px #000;">(открытого рейда) самоходными</span>
<span style="top:1975.3px;font-size:36.9px;left:410.0px;transform-origin:0 30.9px;transform:scaleX(1.0040);-webkit-text-stroke:1.30px #000;">баржами</span>
<span style="top:1889.9px;font-size:38.0px;right:1201.8px;transform-origin:100% 31.8px;transform:scaleX(0.9711);-webkit-text-stroke:1.30px #000;">1061,06</span>
<span style="top:1890.1px;font-size:38.0px;right:990.6px;transform-origin:100% 31.8px;transform:scaleX(0.9711);-webkit-text-stroke:1.30px #000;">0,00</span>
<span style="top:1890.3px;font-size:38.0px;right:782.6px;transform-origin:100% 31.8px;transform:scaleX(0.9711);-webkit-text-stroke:1.30px #000;">1061,06</span>
<span style="top:1890.4px;font-size:38.0px;right:573.1px;transform-origin:100% 31.8px;transform:scaleX(0.9711);-webkit-text-stroke:1.30px #000;">85,69</span>
<span style="top:1890.6px;font-size:38.0px;right:363.8px;transform-origin:100% 31.8px;transform:scaleX(0.9711);-webkit-text-stroke:1.30px #000;">0,00</span>
<span style="top:1890.8px;font-size:38.0px;right:154.5px;transform-origin:100% 31.8px;transform:scaleX(0.9711);-webkit-text-stroke:1.30px #000;">0</span>
<span style="top:2015.7px;font-size:38.0px;left:273.3px;transform-origin:0 0;transform:scaleX(0.9749) translateX(-50%);-webkit-text-stroke:1.30px #000;">42-02-006-06</span>
<span style="top:2017.7px;font-size:36.9px;left:456.9px;transform-origin:0 30.9px;transform:scaleX(1.0040);-webkit-text-stroke:1.30px #000;">до 15 т у открытого побережья</span>
<span style="top:2059.8px;font-size:36.9px;left:410.2px;transform-origin:0 30.9px;transform:scaleX(1.0040);-webkit-text-stroke:1.30px #000;">(открытого рейда) самоходными</span>
<span style="top:2101.8px;font-size:36.9px;left:410.3px;transform-origin:0 30.9px;transform:scaleX(1.0040);-webkit-text-stroke:1.30px #000;">баржами</span>
<span style="top:2016.4px;font-size:38.0px;right:1201.5px;transform-origin:100% 31.8px;transform:scaleX(0.9711);-webkit-text-stroke:1.30px #000;">3081,16</span>
<span style="top:2016.6px;font-size:38.0px;right:990.3px;transform-origin:100% 31.8px;transform:scaleX(0.9711);-webkit-text-stroke:1.30px #000;">0,00</span>
<span style="top:2016.7px;font-size:38.0px;right:782.3px;transform-origin:100% 31.8px;transform:scaleX(0.9711);-webkit-text-stroke:1.30px #000;">3081,16</span>
<span style="top:2016.9px;font-size:38.0px;right:572.8px;transform-origin:100% 31.8px;transform:scaleX(0.9711);-webkit-text-stroke:1.30px #000;">248,82</span>
<span style="top:2017.1px;font-size:38.0px;right:363.5px;transform-origin:100% 31.8px;transform:scaleX(0.9711);-webkit-text-stroke:1.30px #000;">0,00</span>
<span style="top:2017.2px;font-size:38.0px;right:154.5px;transform-origin:100% 31.8px;transform:scaleX(0.9711);-webkit-text-stroke:1.30px #000;">0</span>
<span style="top:2145.1px;font-size:36.9px;left:425.2px;transform-origin:0 30.9px;transform:rotate(0.070deg) scaleX(1.0013);font-weight:bold;-webkit-text-stroke:1.00px #000;">Перемещение плавучих средств с тетраподами от приобъектного склада до места работ на каждый</span>
<span style="top:2187.6px;font-size:36.9px;left:425.3px;transform-origin:0 30.9px;transform:rotate(0.070deg) scaleX(1.0000);font-weight:bold;-webkit-text-stroke:1.00px #000;">последующий километр массой:</span>
<span style="top:2228.8px;font-size:38.0px;left:273.8px;transform-origin:0 0;transform:scaleX(0.9749) translateX(-50%);-webkit-text-stroke:1.30px #000;">42-02-006-07</span>
<span style="top:2230.8px;font-size:36.9px;left:457.4px;transform-origin:0 30.9px;transform:scaleX(1.0040);-webkit-text-stroke:1.30px #000;">до 5 т в закрытой акватории</span>
<span style="top:2272.8px;font-size:36.9px;left:410.7px;transform-origin:0 30.9px;transform:scaleX(1.0040);-webkit-text-stroke:1.30px #000;">несамоходными баржами</span>
<span style="top:2229.4px;font-size:38.0px;right:1201.0px;transform-origin:100% 31.8px;transform:scaleX(0.9711);-webkit-text-stroke:1.30px #000;">84,85</span>
<span style="top:2229.6px;font-size:38.0px;right:989.8px;transform-origin:100% 31.8px;transform:scaleX(0.9711);-webkit-text-stroke:1.30px #000;">0,00</span>
<span style="top:2229.7px;font-size:38.0px;right:781.8px;transform-origin:100% 31.8px;transform:scaleX(0.9711);-webkit-text-stroke:1.30px #000;">84,85</span>
<span style="top:2229.9px;font-size:38.0px;right:572.3px;transform-origin:100% 31.8px;transform:scaleX(0.9711);-webkit-text-stroke:1.30px #000;">11,40</span>
<span style="top:2230.1px;font-size:38.0px;right:363.0px;transform-origin:100% 31.8px;transform:scaleX(0.9711);-webkit-text-stroke:1.30px #000;">0,00</span>
<span style="top:2230.2px;font-size:38.0px;right:154.4px;transform-origin:100% 31.8px;transform:scaleX(0.9711);-webkit-text-stroke:1.30px #000;">0</span>
<span style="top:2314.5px;font-size:38.0px;left:274.0px;transform-origin:0 0;transform:scaleX(0.9749) translateX(-50%);-webkit-text-stroke:1.30px #000;">42-02-006-08</span>
<span style="top:2316.5px;font-size:36.9px;left:457.6px;transform-origin:0 30.9px;transform:scaleX(1.0040);-webkit-text-stroke:1.30px #000;">до 15 т в закрытой акватории</span>
<span style="top:2358.5px;font-size:36.9px;left:410.9px;transform-origin:0 30.9px;transform:scaleX(1.0040);-webkit-text-stroke:1.30px #000;">несамоходными баржами</span>
<span style="top:2315.1px;font-size:38.0px;right:1200.8px;transform-origin:100% 31.8px;transform:scaleX(0.9711);-webkit-text-stroke:1.30px #000;">258,23</span>
<span style="top:2315.3px;font-size:38.0px;right:989.6px;transform-origin:100% 31.8px;transform:scaleX(0.9711);-webkit-text-stroke:1.30px #000;">0,00</span>
<span style="top:2315.4px;font-size:38.0px;right:781.6px;transform-origin:100% 31.8px;transform:scaleX(0.9711);-webkit-text-stroke:1.30px #000;">258,23</span>
<span style="top:2315.6px;font-size:38.0px;right:572.1px;transform-origin:100% 31.8px;transform:scaleX(0.9711);-webkit-text-stroke:1.30px #000;">34,69</span>
<span style="top:2315.7px;font-size:38.0px;right:362.8px;transform-origin:100% 31.8px;transform:scaleX(0.9711);-webkit-text-stroke:1.30px #000;">0,00</span>
<span style="top:2315.9px;font-size:38.0px;right:154.4px;transform-origin:100% 31.8px;transform:scaleX(0.9711);-webkit-text-stroke:1.30px #000;">0</span>
<span style="top:2400.6px;font-size:38.0px;left:274.2px;transform-origin:0 0;transform:scaleX(0.9749) translateX(-50%);-webkit-text-stroke:1.30px #000;">42-02-006-09</span>
<span style="top:2402.6px;font-size:36.9px;left:457.8px;transform-origin:0 30.9px;transform:scaleX(1.0040);-webkit-text-stroke:1.30px #000;">до 5 т у открытого побережья</span>
<span style="top:2444.6px;font-size:36.9px;left:411.2px;transform-origin:0 30.9px;transform:scaleX(1.0040);-webkit-text-stroke:1.30px #000;">(открытого рейда)</span>
<span style="top:2486.7px;font-size:36.9px;left:411.3px;transform-origin:0 30.9px;transform:scaleX(1.0040);-webkit-text-stroke:1.30px #000;">несамоходными баржами</span>
<span style="top:2401.2px;font-size:38.0px;right:1200.6px;transform-origin:100% 31.8px;transform:scaleX(0.9711);-webkit-text-stroke:1.30px #000;">127,80</span>
<span style="top:2401.3px;font-size:38.0px;right:989.4px;transform-origin:100% 31.8px;transform:scaleX(0.9711);-webkit-text-stroke:1.30px #000;">0,00</span>
<span style="top:2401.5px;font-size:38.0px;right:781.4px;transform-origin:100% 31.8px;transform:scaleX(0.9711);-webkit-text-stroke:1.30px #000;">127,80</span>
<span style="top:2401.6px;font-size:38.0px;right:571.9px;transform-origin:100% 31.8px;transform:scaleX(0.9711);-webkit-text-stroke:1.30px #000;">16,30</span>
<span style="top:2401.8px;font-size:38.0px;right:362.6px;transform-origin:100% 31.8px;transform:scaleX(0.9711);-webkit-text-stroke:1.30px #000;">0,00</span>
<span style="top:2401.9px;font-size:38.0px;right:153.9px;transform-origin:100% 31.8px;transform:scaleX(0.9711);-webkit-text-stroke:1.30px #000;">0</span>
<span style="top:2527.7px;font-size:38.0px;left:274.7px;transform-origin:0 0;transform:scaleX(0.9749) translateX(-50%);-webkit-text-stroke:1.30px #000;">42-02-006-10</span>
<span style="top:2529.7px;font-size:36.9px;left:458.3px;transform-origin:0 30.9px;transform:scaleX(1.0040);-webkit-text-stroke:1.30px #000;">до 15 т у открытого побережья</span>
<span style="top:2571.7px;font-size:36.9px;left:411.6px;transform-origin:0 30.9px;transform:scaleX(1.0040);-webkit-text-stroke:1.30px #000;">(открытого рейда)</span>
<span style="top:2613.8px;font-size:36.9px;left:411.8px;transform-origin:0 30.9px;transform:scaleX(1.0040);-webkit-text-stroke:1.30px #000;">несамоходными баржами</span>
<span style="top:2528.3px;font-size:38.0px;right:1200.1px;transform-origin:100% 31.8px;transform:scaleX(0.9711);-webkit-text-stroke:1.30px #000;">388,96</span>
<span style="top:2528.4px;font-size:38.0px;right:988.9px;transform-origin:100% 31.8px;transform:scaleX(0.9711);-webkit-text-stroke:1.30px #000;">0,00</span>
<span style="top:2528.5px;font-size:38.0px;right:780.9px;transform-origin:100% 31.8px;transform:scaleX(0.9711);-webkit-text-stroke:1.30px #000;">388,96</span>
<span style="top:2528.7px;font-size:38.0px;right:571.4px;transform-origin:100% 31.8px;transform:scaleX(0.9711);-webkit-text-stroke:1.30px #000;">49,60</span>
<span style="top:2528.8px;font-size:38.0px;right:362.1px;transform-origin:100% 31.8px;transform:scaleX(0.9711);-webkit-text-stroke:1.30px #000;">0,00</span>
<span style="top:2529.0px;font-size:38.0px;right:153.0px;transform-origin:100% 31.8px;transform:scaleX(0.9711);-webkit-text-stroke:1.30px #000;">0</span>
<span style="top:2655.2px;font-size:38.0px;left:275.5px;transform-origin:0 0;transform:scaleX(0.9749) translateX(-50%);-webkit-text-stroke:1.30px #000;">42-02-006-11</span>
<span style="top:2657.2px;font-size:36.9px;left:459.1px;transform-origin:0 30.9px;transform:scaleX(1.0040);-webkit-text-stroke:1.30px #000;">до 5 т у открытого побережья</span>
<span style="top:2699.2px;font-size:36.9px;left:412.8px;transform-origin:0 30.9px;transform:scaleX(1.0040);-webkit-text-stroke:1.30px #000;">(открытого рейда) самоходными</span>
<span style="top:2741.3px;font-size:36.9px;left:413.3px;transform-origin:0 30.9px;transform:scaleX(1.0040);-webkit-text-stroke:1.30px #000;">баржами</span>
<span style="top:2655.7px;font-size:38.0px;right:1199.3px;transform-origin:100% 31.8px;transform:scaleX(0.9711);-webkit-text-stroke:1.30px #000;">234,66</span>
<span style="top:2655.9px;font-size:38.0px;right:988.1px;transform-origin:100% 31.8px;transform:scaleX(0.9711);-webkit-text-stroke:1.30px #000;">0,00</span>
<span style="top:2656.0px;font-size:38.0px;right:780.1px;transform-origin:100% 31.8px;transform:scaleX(0.9711);-webkit-text-stroke:1.30px #000;">234,66</span>
<span style="top:2656.1px;font-size:38.0px;right:570.6px;transform-origin:100% 31.8px;transform:scaleX(0.9711);-webkit-text-stroke:1.30px #000;">18,95</span>
<span style="top:2656.3px;font-size:38.0px;right:361.3px;transform-origin:100% 31.8px;transform:scaleX(0.9711);-webkit-text-stroke:1.30px #000;">0,00</span>
<span style="top:2656.4px;font-size:38.0px;right:152.2px;transform-origin:100% 31.8px;transform:scaleX(0.9711);-webkit-text-stroke:1.30px #000;">0</span>
<span style="top:2783.0px;font-size:38.0px;left:277.0px;transform-origin:0 0;transform:scaleX(0.9749) translateX(-50%);-webkit-text-stroke:1.30px #000;">42-02-006-12</span>
<span style="top:2785.0px;font-size:36.9px;left:460.6px;transform-origin:0 30.9px;transform:scaleX(1.0040);-webkit-text-stroke:1.30px #000;">до 15 т у открытого побережья</span>
<span style="top:2827.0px;font-size:36.9px;left:414.4px;transform-origin:0 30.9px;transform:scaleX(1.0040);-webkit-text-stroke:1.30px #000;">(открытого рейда) самоходными</span>
<span style="top:2869.1px;font-size:36.9px;left:414.9px;transform-origin:0 30.9px;transform:scaleX(1.0040);-webkit-text-stroke:1.30px #000;">баржами</span>
<span style="top:2783.5px;font-size:38.0px;right:1197.8px;transform-origin:100% 31.8px;transform:scaleX(0.9711);-webkit-text-stroke:1.30px #000;">714,18</span>
<span style="top:2783.6px;font-size:38.0px;right:986.6px;transform-origin:100% 31.8px;transform:scaleX(0.9711);-webkit-text-stroke:1.30px #000;">0,00</span>
<span style="top:2783.7px;font-size:38.0px;right:778.6px;transform-origin:100% 31.8px;transform:scaleX(0.9711);-webkit-text-stroke:1.30px #000;">714,18</span>
<span style="top:2783.9px;font-size:38.0px;right:569.1px;transform-origin:100% 31.8px;transform:scaleX(0.9711);-webkit-text-stroke:1.30px #000;">57,67</span>
<span style="top:2784.0px;font-size:38.0px;right:359.8px;transform-origin:100% 31.8px;transform:scaleX(0.9711);-webkit-text-stroke:1.30px #000;">0,00</span>
<span style="top:2784.1px;font-size:38.0px;right:151.0px;transform-origin:100% 31.8px;transform:scaleX(0.9711);-webkit-text-stroke:1.30px #000;">0</span>
<span style="top:3220.2px;font-size:42.5px;right:146.5px;transform-origin:100% 35.6px;transform:scaleX(1.0000);-webkit-text-stroke:1.00px #000;">11</span>
</div>
</body></html>
